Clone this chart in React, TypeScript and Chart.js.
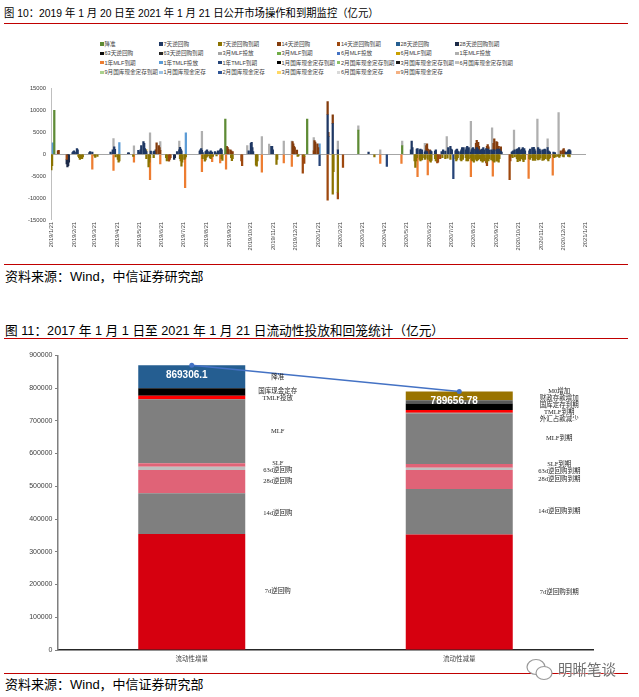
import React, { useEffect, useRef } from 'react';
import { Chart, registerables } from 'chart.js';

Chart.register(...registerables);

type Pt = [string, number];

const SANS = "'Liberation Sans', 'Noto Sans CJK SC', Arial, sans-serif";
const SERIF = "'Liberation Serif', 'Noto Sans CJK SC', serif";

// ---------------- Figure 10: daily open market operations (亿元) ----------------
const omoStartUTC = Date.UTC(2019, 0, 21);
const omoDayCount = 732;
const omoTickDay = '/21';
const omoYTicks = { min: -15000, max: 15000, step: 5000 };

const omoNames = [
  '降准', '7天逆回购', '7天逆回购到期', '14天逆回购', '14天逆回购到期', '28天逆回购', '28天逆回购到期',
  '63天逆回购', '63天逆回购到期', '3月MLF投放', '3月MLF到期', '6月MLF投放', '6月MLF到期', '1年MLF投放',
  '1年MLF到期', '1年TMLF投放', '1年TMLF到期', '1月国库现金定存到期', '2月国库现金定存到期', '3月国库现金定存到期', '6月国库现金定存到期',
  '9月国库现金定存到期', '1月国库现金定存', '2月国库现金定存', '3月国库现金定存', '6月国库现金定存', '9月国库现金定存',
];

const omoColors = [
  '#5E8B35', '#1F3864', '#8B7300', '#843C0C', '#9E480E', '#255E91', '#1C2A48',
  '#0D0D0D', '#262626', '#A5A5A5', '#70AD47', '#4472C4', '#C9A000', '#AFAFAF',
  '#ED7D31', '#5B9BD5', '#264478', '#000000', '#8CC168', '#1A1A1A', '#BFBFBF',
  '#A9D18E', '#9DC3E6', '#2F5597', '#FFD966', '#D9D9D9', '#F4B183',
];

const cutRRR: Pt[] = [
  ['2019/1/25', 10000], ['2019/9/16', 8000], ['2020/1/6', 8000], ['2020/3/16', 5500], ['2020/5/15', 2000],
];

const rr7: Pt[] = [
  ['2019/2/19', 400], ['2019/2/20', 600], ['2019/2/21', 800], ['2019/2/22', 500], ['2019/2/25', 1300], ['2019/2/26', 1000],
  ['2019/3/14', 400], ['2019/3/15', 600], ['2019/3/18', 500],
  ['2019/4/12', 500], ['2019/4/15', 1000], ['2019/4/17', 1700], ['2019/4/18', 1100],
  ['2019/5/6', 300], ['2019/5/7', 300],
  ['2019/5/20', 900], ['2019/5/21', 500], ['2019/5/23', 1000], ['2019/5/24', 2000], ['2019/5/27', 2900], ['2019/5/28', 2500],
  ['2019/5/29', 1300], ['2019/5/30', 1000], ['2019/5/31', 600],
  ['2019/6/6', 700], ['2019/6/10', 600], ['2019/6/11', 700],
  ['2019/7/12', 600], ['2019/7/15', 1000], ['2019/7/16', 1600], ['2019/7/17', 1200], ['2019/7/18', 800],
  ['2019/8/12', 700], ['2019/8/13', 1000], ['2019/8/14', 1300], ['2019/8/15', 900], ['2019/8/16', 400], ['2019/8/20', 600],
  ['2019/8/21', 800], ['2019/8/22', 1000], ['2019/8/23', 600], ['2019/8/26', 500], ['2019/8/27', 800], ['2019/8/29', 500],
  ['2019/9/2', 600], ['2019/9/3', 300], ['2019/9/6', 800], ['2019/9/9', 1000], ['2019/9/10', 1300], ['2019/9/11', 1000],
  ['2019/10/18', 800], ['2019/10/21', 2500], ['2019/10/22', 2700], ['2019/10/23', 1500], ['2019/10/24', 600],
  ['2019/11/18', 1800], ['2019/11/19', 1800], ['2019/11/20', 1000],
  ['2020/2/3', 9000], ['2020/2/4', 4000], ['2020/2/10', 7000], ['2020/2/17', 1000], ['2020/3/30', 500],
  ['2020/5/27', 1000], ['2020/5/28', 3000], ['2020/5/29', 1500],
  ['2020/6/4', 1200], ['2020/6/5', 1300], ['2020/6/8', 1000], ['2020/6/9', 1200], ['2020/6/10', 800], ['2020/6/11', 1000],
  ['2020/6/15', 500], ['2020/6/16', 800], ['2020/6/18', 600], ['2020/6/23', 800], ['2020/6/24', 600], ['2020/6/29', 700], ['2020/6/30', 1000],
  ['2020/7/8', 600], ['2020/7/10', 1000], ['2020/7/13', 700], ['2020/7/17', 1500], ['2020/7/20', 1800], ['2020/7/21', 1200],
  ['2020/7/22', 1000], ['2020/7/27', 800], ['2020/7/28', 1000], ['2020/7/29', 1200], ['2020/7/30', 700], ['2020/7/31', 500],
  ['2020/8/3', 600], ['2020/8/4', 1000], ['2020/8/5', 1500], ['2020/8/6', 1200], ['2020/8/7', 1500], ['2020/8/10', 1000],
  ['2020/8/11', 1500], ['2020/8/12', 1800], ['2020/8/13', 1000], ['2020/8/14', 1500], ['2020/8/17', 500], ['2020/8/18', 1000],
  ['2020/8/19', 1300], ['2020/8/20', 1500], ['2020/8/21', 1200], ['2020/8/24', 1000], ['2020/8/25', 1500], ['2020/8/26', 1000],
  ['2020/8/27', 1200], ['2020/8/28', 800], ['2020/8/31', 1000],
  ['2020/9/1', 1200], ['2020/9/2', 1000], ['2020/9/3', 1500], ['2020/9/4', 1000], ['2020/9/7', 1300], ['2020/9/8', 1000],
  ['2020/9/9', 1000], ['2020/9/10', 1200], ['2020/9/11', 900], ['2020/9/14', 1000], ['2020/9/16', 800], ['2020/9/17', 1000],
  ['2020/9/18', 1000], ['2020/9/21', 900], ['2020/9/22', 1200], ['2020/9/23', 800], ['2020/9/24', 1000], ['2020/9/25', 1200],
  ['2020/9/27', 700], ['2020/9/28', 500],
  ['2020/10/12', 500], ['2020/10/13', 600], ['2020/10/14', 800], ['2020/10/15', 500], ['2020/10/16', 1000], ['2020/10/19', 1200],
  ['2020/10/20', 1000], ['2020/10/21', 1300], ['2020/10/22', 1500], ['2020/10/23', 1000], ['2020/10/26', 1200], ['2020/10/27', 1500],
  ['2020/10/28', 1000], ['2020/10/29', 1300], ['2020/10/30', 800],
  ['2020/11/5', 800], ['2020/11/6', 1200], ['2020/11/9', 1500], ['2020/11/10', 1000], ['2020/11/11', 1600], ['2020/11/12', 1200],
  ['2020/11/13', 800], ['2020/11/17', 1500], ['2020/11/18', 1000], ['2020/11/19', 1200], ['2020/11/20', 800], ['2020/11/23', 1000],
  ['2020/11/24', 800], ['2020/11/25', 1000], ['2020/11/26', 1200], ['2020/11/27', 1000], ['2020/11/30', 1500],
  ['2020/12/1', 800], ['2020/12/2', 600], ['2020/12/3', 500], ['2020/12/8', 500], ['2020/12/10', 400], ['2020/12/25', 500],
  ['2020/12/28', 800], ['2020/12/29', 1000], ['2020/12/30', 1000], ['2020/12/31', 800],
];

const rr7Due: Pt[] = [
  ['2019/1/21', -3600], ['2019/1/22', -2600], ['2019/2/27', -500], ['2019/2/28', -800], ['2019/3/1', -1200], ['2019/3/4', -1000],
  ['2019/3/5', -600], ['2019/3/21', -400], ['2019/3/22', -700], ['2019/3/25', -500], ['2019/4/19', -600], ['2019/4/22', -1200],
  ['2019/4/23', -1800], ['2019/4/24', -1500], ['2019/5/13', -500], ['2019/5/31', -1000], ['2019/6/3', -2900], ['2019/6/4', -1800],
  ['2019/6/5', -800], ['2019/6/10', -800], ['2019/6/27', -800], ['2019/6/28', -1500], ['2019/7/16', -1000], ['2019/7/17', -1500],
  ['2019/7/18', -2700], ['2019/7/19', -1800], ['2019/7/22', -1200], ['2019/7/23', -900], ['2019/7/24', -600], ['2019/8/16', -1000],
  ['2019/8/19', -1600], ['2019/8/20', -1300], ['2019/8/21', -700], ['2019/8/22', -500], ['2019/8/23', -400], ['2019/8/26', -800],
  ['2019/8/27', -1000], ['2019/8/28', -600], ['2019/8/30', -500], ['2019/9/4', -400], ['2019/9/11', -1000], ['2019/9/12', -1400],
  ['2019/9/24', -800], ['2019/9/25', -1450], ['2019/9/26', -1000], ['2019/10/28', -2500], ['2019/10/29', -2700], ['2019/10/30', -1500],
  ['2019/11/25', -2300], ['2019/11/26', -1200], ['2019/12/24', -500], ['2019/12/25', -400], ['2020/1/2', -500],
  ['2020/2/10', -9100], ['2020/2/11', -4000], ['2020/2/17', -8700], ['2020/4/7', -600],
  ['2020/6/1', -1500], ['2020/6/2', -3000], ['2020/6/3', -1500], ['2020/6/4', -800], ['2020/6/8', -1200], ['2020/6/9', -1500],
  ['2020/6/10', -1000], ['2020/6/11', -1300], ['2020/6/12', -800], ['2020/6/15', -1200], ['2020/6/16', -900], ['2020/6/19', -1200],
  ['2020/6/22', -1500], ['2020/6/23', -1800], ['2020/6/24', -1400], ['2020/6/29', -1000], ['2020/6/30', -1500], ['2020/7/9', -800],
  ['2020/7/13', -1000], ['2020/7/16', -900], ['2020/7/20', -1200], ['2020/7/27', -1000], ['2020/7/28', -1500], ['2020/7/29', -1200],
  ['2020/7/30', -800], ['2020/8/3', -1300], ['2020/8/4', -1500], ['2020/8/5', -1000], ['2020/8/6', -1200], ['2020/8/10', -800],
  ['2020/8/11', -1500], ['2020/8/12', -1100], ['2020/8/13', -1500], ['2020/8/14', -1000], ['2020/8/17', -800], ['2020/8/18', -1300],
  ['2020/8/19', -1500], ['2020/8/20', -1000], ['2020/8/21', -1800], ['2020/8/24', -1200], ['2020/8/25', -1500], ['2020/8/26', -1000],
  ['2020/8/27', -1300], ['2020/8/28', -1000], ['2020/8/31', -1500], ['2020/9/1', -1200], ['2020/9/2', -1800], ['2020/9/3', -1000],
  ['2020/9/4', -1500], ['2020/9/7', -1000], ['2020/9/8', -1800], ['2020/9/9', -1200], ['2020/9/10', -1500], ['2020/9/11', -1000],
  ['2020/9/14', -1300], ['2020/9/15', -1000], ['2020/9/16', -1500], ['2020/9/17', -1200], ['2020/9/18', -1800], ['2020/9/21', -1600],
  ['2020/9/22', -1000], ['2020/9/23', -1500], ['2020/9/24', -1800], ['2020/9/25', -1000], ['2020/10/12', -500], ['2020/10/13', -800],
  ['2020/10/16', -600], ['2020/10/19', -1000], ['2020/10/20', -1700], ['2020/10/21', -1200], ['2020/10/22', -1000], ['2020/10/23', -1500],
  ['2020/10/26', -1000], ['2020/10/27', -1300], ['2020/10/28', -1700], ['2020/10/29', -1000], ['2020/10/30', -1200], ['2020/11/5', -1000],
  ['2020/11/6', -1200], ['2020/11/9', -800], ['2020/11/10', -1400], ['2020/11/11', -1000], ['2020/11/12', -1200], ['2020/11/13', -1400],
  ['2020/11/16', -1000], ['2020/11/17', -1300], ['2020/11/18', -1000], ['2020/11/19', -1200], ['2020/11/20', -800], ['2020/11/23', -1400],
  ['2020/11/24', -1000], ['2020/11/25', -1300], ['2020/11/26', -800], ['2020/11/27', -1000], ['2020/11/30', -1200], ['2020/12/1', -1500],
  ['2020/12/2', -1000], ['2020/12/3', -800], ['2020/12/8', -500], ['2020/12/9', -800], ['2020/12/11', -600], ['2020/12/14', -500],
  ['2020/12/16', -700], ['2020/12/17', -400], ['2020/12/21', -500], ['2020/12/22', -600], ['2020/12/28', -500], ['2020/12/29', -300],
  ['2020/12/30', -600],
];

const rr14: Pt[] = [
  ['2019/1/30', 800], ['2019/1/31', 900], ['2019/6/13', 1000], ['2019/6/14', 2600], ['2019/6/17', 2000], ['2019/6/18', 1500],
  ['2019/6/19', 900], ['2019/9/18', 1800], ['2019/9/19', 1600], ['2019/9/20', 1200], ['2019/9/23', 1000], ['2019/9/24', 800],
  ['2019/9/26', 600], ['2019/12/17', 2900], ['2019/12/18', 2400], ['2019/12/19', 1800], ['2019/12/20', 1500], ['2019/12/23', 950],
  ['2020/1/15', 800], ['2020/1/16', 3100], ['2020/1/17', 2800], ['2020/1/20', 2400], ['2020/1/21', 1500], ['2020/2/3', 3000],
  ['2020/2/4', 1000], ['2020/2/10', 2000], ['2020/6/17', 2000], ['2020/6/18', 1800], ['2020/6/19', 1200], ['2020/6/22', 1000],
  ['2020/8/24', 1500], ['2020/8/25', 1700], ['2020/8/26', 1000], ['2020/8/27', 1500], ['2020/8/28', 1000], ['2020/9/8', 800],
  ['2020/9/9', 1200], ['2020/9/10', 500], ['2020/9/17', 1500], ['2020/9/18', 2500], ['2020/9/21', 2000], ['2020/9/22', 1500],
  ['2020/9/23', 1000], ['2020/9/24', 800], ['2020/9/27', 1000], ['2020/12/18', 800], ['2020/12/21', 1000], ['2020/12/22', 1300],
  ['2020/12/23', 800],
];

const rr14Due: Pt[] = [
  ['2019/2/11', -1200], ['2019/7/1', -1600], ['2019/7/2', -1200], ['2019/7/3', -800], ['2019/10/8', -1500], ['2019/10/9', -2600],
  ['2019/12/31', -4300], ['2020/1/2', -1600], ['2020/2/3', -10500], ['2020/2/17', -1500], ['2020/2/24', -3000], ['2020/7/1', -1500],
  ['2020/7/2', -2000], ['2020/7/3', -1800], ['2020/7/6', -1000], ['2020/9/7', -1000], ['2020/9/8', -800], ['2020/10/9', -5800],
  ['2020/10/10', -1500],
];

const rr28: Pt[] = [];
const rr28Due: Pt[] = [
  ['2019/2/11', -1000], ['2019/2/12', -2900], ['2019/2/13', -2600], ['2019/2/14', -1800], ['2019/7/8', -1200], ['2019/7/9', -800],
];
const rr63: Pt[] = [];
const rr63Due: Pt[] = [];
const mlf3m: Pt[] = [];
const mlf3mDue: Pt[] = [];
const mlf6m: Pt[] = [];
const mlf6mDue: Pt[] = [];

const mlf1y: Pt[] = [
  ['2019/4/16', 3600], ['2019/5/14', 1900], ['2019/6/5', 4900], ['2019/6/19', 2000], ['2019/7/15', 2000], ['2019/8/15', 4300],
  ['2019/10/16', 2000], ['2019/11/5', 4000], ['2019/11/15', 2300], ['2019/12/5', 3000], ['2019/12/16', 3000], ['2020/1/15', 3000],
  ['2020/2/17', 2000], ['2020/3/16', 1000], ['2020/4/15', 1000], ['2020/5/15', 1000], ['2020/6/15', 2000], ['2020/7/15', 4000],
  ['2020/8/17', 7000], ['2020/9/15', 6000], ['2020/10/15', 5000], ['2020/11/16', 8000], ['2020/11/30', 2000], ['2020/12/15', 9500],
];

const mlf1yDue: Pt[] = [
  ['2019/3/18', -3400], ['2019/4/16', -3700], ['2019/5/14', -1800], ['2019/6/5', -5000], ['2019/6/19', -2200], ['2019/7/23', -6700],
  ['2019/8/15', -4000], ['2019/8/29', -1700], ['2019/9/9', -2000], ['2019/9/17', -3400], ['2019/11/5', -4100], ['2019/12/5', -2000],
  ['2019/12/16', -2800], ['2020/4/15', -2100], ['2020/5/14', -2100], ['2020/6/5', -5100], ['2020/6/19', -3500], ['2020/8/17', -4300],
  ['2020/9/16', -3500], ['2020/11/4', -5500], ['2020/12/7', -4800],
];

const tmlf: Pt[] = [['2019/1/23', 2575], ['2019/4/24', 2674], ['2019/7/24', 4900], ['2020/1/23', 2400]];
const tmlfDue: Pt[] = [['2020/1/23', -2600], ['2020/4/24', -2800], ['2020/7/24', -5600]];

const cash1mDue: Pt[] = [];
const cash2mDue: Pt[] = [];
const cash3mDue: Pt[] = [];
const cash6mDue: Pt[] = [];
const cash9mDue: Pt[] = [];
const cash1m: Pt[] = [['2019/6/12', 1000]];
const cash2m: Pt[] = [];
const cash3m: Pt[] = [['2019/5/31', 500]];
const cash6m: Pt[] = [];
const cash9m: Pt[] = [];

const omoSeries: Pt[][] = [
  cutRRR, rr7, rr7Due, rr14, rr14Due, rr28, rr28Due,
  rr63, rr63Due, mlf3m, mlf3mDue, mlf6m, mlf6mDue, mlf1y,
  mlf1yDue, tmlf, tmlfDue, cash1mDue, cash2mDue, cash3mDue, cash6mDue,
  cash9mDue, cash1m, cash2m, cash3m, cash6m, cash9m,
];

// ---------------- Figure 11: liquidity injection / withdrawal (亿元) ----------------
const flowCategories = ['流动性增量', '流动性减量'];
const flowSeriesNames = ['7d', '14d', '28d', '63d', 'SLF', 'MLF', '外汇占款', 'TMLF', '国库现金', '财政存款', '降准', 'M0'];
const increaseNames = ['7d逆回购', '14d逆回购', '28d逆回购', '63d逆回购', 'SLF', 'MLF', '', 'TMLF投放', '国库现金定存', '', '降准', ''];
const decreaseNames = ['7d逆回购到期', '14d逆回购到期', '28d逆回购到期', '63d逆回购到期', 'SLF到期', 'MLF到期', '外汇占款减少', 'TMLF到期', '国库定存到期', '财政存款增加', '', 'M0增加'];
const increaseValues = [354000, 124500, 71000, 10000, 10400, 195500, 0, 11000, 22500, 0, 70406.1, 0];
const decreaseValues = [353000, 138600, 58000, 7000, 11400, 154000, 2500, 8000, 20300, 10000, 0, 26856.78];
const flowColors = ['#D6000F', '#7F7F7F', '#E06377', '#BFBFBF', '#E06377', '#7F7F7F', '#7F7F7F', '#FF0000', '#000000', '#595959', '#255E91', '#997300'];
const flowTotals = [869306.1, 789656.78];
const flowYTicks = { min: 0, max: 900000, step: 100000 };

// ---------------- helpers ----------------
function buildDays(): string[] {
  const out: string[] = [];
  for (let i = 0; i < omoDayCount; i++) {
    const d = new Date(omoStartUTC + i * 86400000);
    out.push(`${d.getUTCFullYear()}/${d.getUTCMonth() + 1}/${d.getUTCDate()}`);
  }
  return out;
}
const omoDays = buildDays();
const omoIndex = new Map(omoDays.map((d, i) => [d, i] as [string, number]));

function toDaily(points: Pt[]): (number | null)[] {
  const arr: (number | null)[] = new Array(omoDays.length).fill(null);
  points.forEach(([d, v]) => {
    const i = omoIndex.get(d);
    if (i !== undefined) arr[i] = (arr[i] ?? 0) + v;
  });
  return arr;
}

type LabelItem = { name: string; x: number; y0: number; y: number };
function spreadLabels(items: LabelItem[], gap: number) {
  items.sort((a, b) => a.y0 - b.y0);
  let groups = items.map((it) => ({ members: [it], center: it.y0 }));
  let changed = true;
  while (changed) {
    changed = false;
    for (let k = 0; k < groups.length - 1; k++) {
      const a = groups[k];
      const b = groups[k + 1];
      const aBottom = a.center + ((a.members.length - 1) * gap) / 2;
      const bTop = b.center - ((b.members.length - 1) * gap) / 2;
      if (bTop - aBottom < gap) {
        const members = a.members.concat(b.members);
        const center = members.reduce((s, m) => s + m.y0, 0) / members.length;
        groups.splice(k, 2, { members, center });
        changed = true;
        break;
      }
    }
  }
  groups.forEach((g) =>
    g.members.forEach((m, i) => {
      m.y = g.center + (i - (g.members.length - 1) / 2) * gap;
    })
  );
}

// ---------------- charts ----------------
function OmoChart() {
  const ref = useRef<HTMLCanvasElement>(null);
  useEffect(() => {
    const chart = new Chart(ref.current as HTMLCanvasElement, {
      type: 'bar',
      data: {
        labels: omoDays,
        datasets: omoSeries.map((pts, i) => ({
          label: omoNames[i],
          data: toDaily(pts),
          backgroundColor: omoColors[i],
          borderWidth: 0,
          barThickness: 1.6,
          stack: 'omo',
        })),
      },
      options: {
        animation: false,
        responsive: false,
        events: [],
        layout: { padding: { left: 0, right: 53, top: 2, bottom: 0 } },
        plugins: { legend: { display: false }, tooltip: { enabled: false } },
        scales: {
          x: {
            stacked: true,
            grid: { display: false, drawTicks: false },
            border: { display: false },
            ticks: {
              autoSkip: false,
              minRotation: 90,
              maxRotation: 90,
              padding: 2,
              color: '#404040',
              font: { size: 5.7, family: SANS },
              callback: (_v: any, i: number) => (omoDays[i].endsWith(omoTickDay) ? omoDays[i] : ''),
            },
            afterFit: (s: any) => {
              s.height = 40;
            },
          },
          y: {
            stacked: true,
            min: omoYTicks.min,
            max: omoYTicks.max,
            ticks: {
              stepSize: omoYTicks.step,
              padding: 5,
              color: '#404040',
              font: { size: 5.8, family: SANS },
              callback: (v: any) => String(v),
            },
            grid: {
              drawTicks: false,
              color: (c: any) => (c.tick && c.tick.value === 0 ? '#A6A6A6' : 'rgba(0,0,0,0)'),
            },
            border: { color: '#BFBFBF', width: 1 },
            afterFit: (s: any) => {
              s.width = 51;
            },
          },
        },
      },
    } as any);
    return () => chart.destroy();
  }, []);
  return (
    <canvas
      ref={ref}
      width={639}
      height={180}
      style={{ position: 'absolute', left: 0, top: 80, width: 639, height: 180 }}
    />
  );
}

const flowLabelPlugin = {
  id: 'flowLabels',
  afterDatasetsDraw(chart: any) {
    const ctx = chart.ctx as CanvasRenderingContext2D;
    ctx.save();
    const sideOffset = [86, 100];
    [increaseNames, decreaseNames].forEach((names, j) => {
      const items: LabelItem[] = [];
      names.forEach((name, i) => {
        if (!name) return;
        const el = chart.getDatasetMeta(i).data[j];
        const yc = (el.y + el.base) / 2;
        items.push({ name, x: el.x + sideOffset[j], y0: yc, y: yc });
      });
      spreadLabels(items, 7);
      ctx.font = `6.5px ${SERIF}`;
      ctx.fillStyle = '#262626';
      ctx.textAlign = 'center';
      ctx.textBaseline = 'middle';
      items.forEach((it) => ctx.fillText(it.name, it.x, it.y));
    });
    const lineMeta = chart.getDatasetMeta(flowSeriesNames.length);
    ctx.font = `bold 10px ${SANS}`;
    ctx.fillStyle = '#FFFFFF';
    ctx.textAlign = 'center';
    ctx.textBaseline = 'middle';
    lineMeta.data.forEach((pt: any, j: number) => {
      ctx.fillText(String(flowTotals[j]), pt.x - 5, pt.y + 9.5);
    });
    ctx.restore();
  },
};

function FlowChart() {
  const ref = useRef<HTMLCanvasElement>(null);
  useEffect(() => {
    const barSets = flowSeriesNames.map((n, i) => ({
      type: 'bar',
      label: n,
      data: [increaseValues[i], decreaseValues[i]],
      backgroundColor: flowColors[i],
      borderWidth: 0,
      barPercentage: 0.4,
      categoryPercentage: 1,
      stack: 'flow',
      order: 1,
    }));
    const chart = new Chart(ref.current as HTMLCanvasElement, {
      type: 'bar',
      data: {
        labels: flowCategories,
        datasets: [
          ...barSets,
          {
            type: 'line',
            label: '合计',
            data: flowTotals,
            borderColor: '#4472C4',
            backgroundColor: '#4472C4',
            borderWidth: 1.5,
            pointRadius: 2.5,
            pointBackgroundColor: '#4472C4',
            pointBorderWidth: 0,
            stack: 'total',
            order: 0,
          },
        ],
      },
      options: {
        animation: false,
        responsive: false,
        events: [],
        layout: { padding: { left: 0, right: 46, top: 15.25, bottom: 0 } },
        plugins: { legend: { display: false }, tooltip: { enabled: false } },
        scales: {
          x: {
            stacked: true,
            grid: { display: false, drawTicks: false },
            border: { color: '#262626', width: 1.5 },
            ticks: { padding: 5, color: '#404040', font: { size: 6.5, family: SANS } },
            afterFit: (s: any) => {
              s.height = 20;
            },
          },
          y: {
            stacked: true,
            min: flowYTicks.min,
            max: flowYTicks.max,
            ticks: {
              stepSize: flowYTicks.step,
              padding: 2.5,
              color: '#404040',
              font: { size: 7, family: SANS },
              callback: (v: any) => String(v),
            },
            grid: { drawOnChartArea: false, drawTicks: true, tickLength: 3, color: '#7F7F7F' },
            border: { color: '#7F7F7F', width: 1.5 },
            afterFit: (s: any) => {
              s.width = 58;
            },
          },
        },
      },
      plugins: [flowLabelPlugin],
    } as any);
    return () => chart.destroy();
  }, []);
  return (
    <canvas
      ref={ref}
      width={639}
      height={330}
      style={{ position: 'absolute', left: 0, top: 340, width: 639, height: 330 }}
    />
  );
}

function OmoLegend() {
  const colX = [100, 159, 218, 277, 336.5, 396, 455];
  const rowY = [44, 53.3, 62.7, 72.3];
  return (
    <>
      {omoNames.map((n, i) => {
        const r = Math.floor(i / 7);
        const c = i % 7;
        return (
          <div
            key={i}
            style={{
              position: 'absolute',
              left: colX[c],
              top: rowY[r] - 3,
              height: 6,
              display: 'flex',
              alignItems: 'center',
              whiteSpace: 'nowrap',
              fontFamily: SANS,
              fontSize: 5.6,
              lineHeight: '6px',
              color: '#404040',
            }}
          >
            <span style={{ display: 'inline-block', width: 3.5, height: 3.5, background: omoColors[i], marginRight: 1 }} />
            {n}
          </div>
        );
      })}
    </>
  );
}

const redRule = (top: number) => (
  <div style={{ position: 'absolute', left: 4, top, width: 624, height: 1.5, background: '#C00000' }} />
);

export default function App() {
  const textBase: React.CSSProperties = {
    position: 'absolute',
    whiteSpace: 'nowrap',
    fontFamily: SANS,
    color: '#000',
  };
  return (
    <div style={{ position: 'absolute', left: 0, top: 0, width: 639, height: 697, background: '#fff', overflow: 'hidden' }}>
      <div
        style={{
          ...textBase,
          left: 4,
          top: 6,
          fontSize: 11,
          lineHeight: '14px',
          transform: 'scaleX(0.94)',
          transformOrigin: 'left center',
        }}
      >
        图 10：2019 年 1 月 20 日至 2021 年 1 月 21 日公开市场操作和到期监控（亿元）
      </div>
      {redRule(22.5)}
      <OmoLegend />
      <OmoChart />
      {redRule(263.5)}
      <div style={{ ...textBase, left: 5, top: 269, fontSize: 13, lineHeight: '16px' }}>资料来源：Wind，中信证券研究部</div>
      <div style={{ ...textBase, left: 5, top: 323, fontSize: 12.7, lineHeight: '16px' }}>
        图 11：2017 年 1 月 1 日至 2021 年 1 月 21 日流动性投放和回笼统计（亿元）
      </div>
      {redRule(337.5)}
      <FlowChart />
      {redRule(672.5)}
      <div style={{ ...textBase, left: 5, top: 677, fontSize: 13, lineHeight: '16px' }}>资料来源：Wind，中信证券研究部</div>
      <svg
        width={30}
        height={24}
        viewBox="0 0 30 24"
        style={{ position: 'absolute', left: 525, top: 658 }}
      >
        <ellipse cx={11} cy={9} rx={9} ry={7.5} fill="#fff" stroke="#9a9a9a" strokeWidth={1.2} />
        <ellipse cx={19} cy={15} rx={8} ry={6.5} fill="#fff" stroke="#9a9a9a" strokeWidth={1.2} />
      </svg>
      <div
        style={{
          ...textBase,
          left: 558,
          top: 661,
          fontSize: 14.5,
          lineHeight: '18px',
          color: '#6e6e6e',
          textShadow: '0 0 2px #fff, 0 0 2px #fff',
        }}
      >
        明晰笔谈
      </div>
    </div>
  );
}
